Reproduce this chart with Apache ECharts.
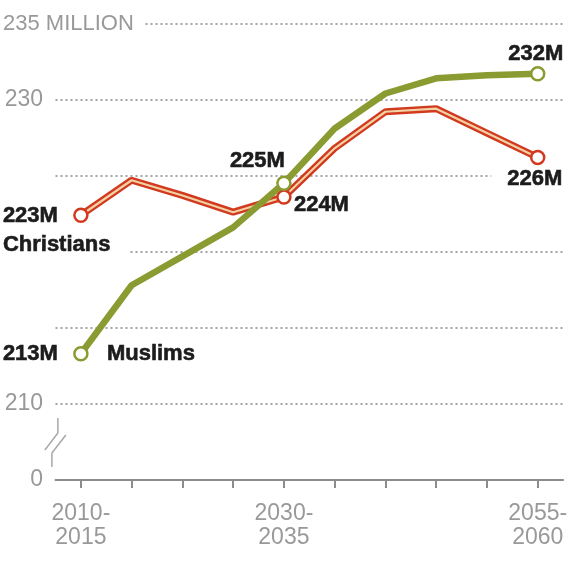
<!DOCTYPE html>
<html>
<head>
<meta charset="utf-8">
<script src="https://cdn.jsdelivr.net/npm/echarts@6/dist/echarts.min.js"></script>
<style>
  html, body { margin: 0; padding: 0; background: #fff; }
  #chart { width: 570px; height: 562px; }
</style>
</head>
<body>
<div id="chart"></div>
<script>
// five-year periods
var periods = ['2010-2015', '2015-2020', '2020-2025', '2025-2030', '2030-2035',
               '2035-2040', '2040-2045', '2045-2050', '2050-2055', '2055-2060'];
// population, millions
var christians = [222.4, 224.7, 223.7, 222.6, 223.6, 226.8, 229.2, 229.4, 227.8, 226.2];
var muslims    = [213.3, 217.8, 219.7, 221.6, 224.5, 228.1, 230.4, 231.4, 231.6, 231.7];
// points that get a circle and a value tag
var markedIdx = [0, 4, 9];
var christianTags = ['223M', '224M', '226M'];
var muslimTags = ['213M', '225M', '232M'];
// y tick labels that are shown
var yTickText = { 205: '0', 210: '210', 230: '230', 235: '235 MILLION' };
var xShown = [0, 4, 9];

var RED = '#d23a20', CREAM = '#f2d1a2', GREEN = '#8a9b32', INK = '#1c1c1c', GREY = '#999999';
var FONT = 'Liberation Sans';

// heavy tag text
var heavy = { fontFamily: FONT, fontWeight: 'bold', fontSize: 22, color: INK,
              textBorderColor: INK, textBorderWidth: 0.6 };

// label placement of each marked point (styles only)
var redLabels = [
  { align: 'left', offset: [-78, 15], lineHeight: 29 },
  { align: 'left', offset: [10, 8] },
  { align: 'center', offset: [-10, 22] }
];
var greenLabels = [
  { align: 'left', offset: [-78, 0] },
  { align: 'right', offset: [1, -22] },
  { align: 'center', offset: [-2, -20] }
];

function redFormatter(k) {
  if (k === 0) return '{a|' + christianTags[0] + '}\n{b|Christians}';
  if (k === 2) return '{w|' + christianTags[2] + '}';
  return christianTags[k];
}
function greenFormatter(k) {
  if (k === 0) return '{a|' + muslimTags[0] + '}{s|}{b|Muslims}';
  return muslimTags[k];
}

function buildPoints(values, labels, fmt) {
  return values.map(function (v, i) {
    var k = markedIdx.indexOf(i);
    if (k < 0) return { value: v, symbol: 'none' };
    return {
      value: v,
      symbol: 'circle',
      label: Object.assign({
        show: true,
        position: 'inside',
        verticalAlign: 'middle',
        formatter: fmt(k),
        rich: {
          a: Object.assign({ width: 62 }, heavy),
          s: { width: 42 },
          b: Object.assign({ backgroundColor: '#fff', padding: [0, 18, 0, 0] }, heavy),
          w: Object.assign({ backgroundColor: '#fff', padding: [2, 2, 2, 16] }, heavy)
        }
      }, heavy, labels[k])
    };
  });
}

var chart = echarts.init(document.getElementById('chart'));
var option = {
  animation: false,
  grid: { left: 55.5, right: 4.5, top: 23.5, bottom: 82 },
  xAxis: {
    type: 'category',
    data: periods,
    boundaryGap: true,
    axisLine: { lineStyle: { color: '#8c8c8c', width: 2 } },
    axisTick: { show: true, alignWithLabel: true, interval: 0, length: 8,
                lineStyle: { color: '#8c8c8c', width: 2 } },
    axisLabel: {
      interval: function (i) { return xShown.indexOf(i) >= 0; },
      formatter: function (v) { return v.replace('-', '-\n'); },
      margin: 22,
      fontFamily: FONT, fontSize: 23, lineHeight: 24, color: GREY
    },
    splitLine: { show: false }
  },
  yAxis: {
    type: 'value',
    min: 205,
    max: 235,
    interval: 5,
    axisLine: { show: false },
    axisTick: { show: false },
    splitLine: { show: true, showMinLine: false,
                 lineStyle: { color: '#a3a3a3', width: 2, type: [2, 3] } },
    axisLabel: {
      align: 'left',
      margin: 52.5,
      showMaxLabel: true,
      formatter: function (v) {
        var t = yTickText[v];
        if (!t) return '';
        return v === 235 ? '{m|' + t + '}' : '{r|' + t + '}';
      },
      rich: {
        m: { fontFamily: FONT, fontSize: 22, color: GREY, backgroundColor: '#fff', padding: [2, 9, 2, 0] },
        r: { fontFamily: FONT, fontSize: 23, color: GREY, width: 40, align: 'right' }
      }
    }
  },
  series: [
    { // red outer band of the Christians line
      name: 'Christians',
      type: 'line',
      data: christians,
      symbol: 'none',
      lineStyle: { color: RED, width: 7 },
      z: 2
    },
    { // cream core of the Christians line, carries the markers
      name: 'Christians',
      type: 'line',
      data: buildPoints(christians, redLabels, redFormatter),
      symbolSize: 13,
      itemStyle: { color: '#fff', borderColor: RED, borderWidth: 2.5 },
      lineStyle: { color: CREAM, width: 2.2 },
      z: 3
    },
    {
      name: 'Muslims',
      type: 'line',
      data: buildPoints(muslims, greenLabels, greenFormatter),
      symbolSize: 13,
      itemStyle: { color: '#fff', borderColor: GREEN, borderWidth: 2.5 },
      lineStyle: { color: GREEN, width: 6.5 },
      z: 4
    }
  ]
};
chart.setOption(option);

// axis break marker between 0 and 210
var c = chart.convertToPixel({ seriesIndex: 0 }, [0, 207.5]);
var cx = c[0] - 26, cy = c[1];
var seg = [
  [[3, -24], [3, -9]],
  [[-10, 8], [3, -9]],
  [[-3, 11], [11, -7]],
  [[-3, 11], [-3, 25]]
];
chart.setOption({
  graphic: seg.map(function (s) {
    return {
      type: 'line',
      shape: { x1: cx + s[0][0], y1: cy + s[0][1], x2: cx + s[1][0], y2: cy + s[1][1] },
      style: { stroke: '#a8a8a8', lineWidth: 1.5 },
      silent: true
    };
  })
});
</script>
</body>
</html>
